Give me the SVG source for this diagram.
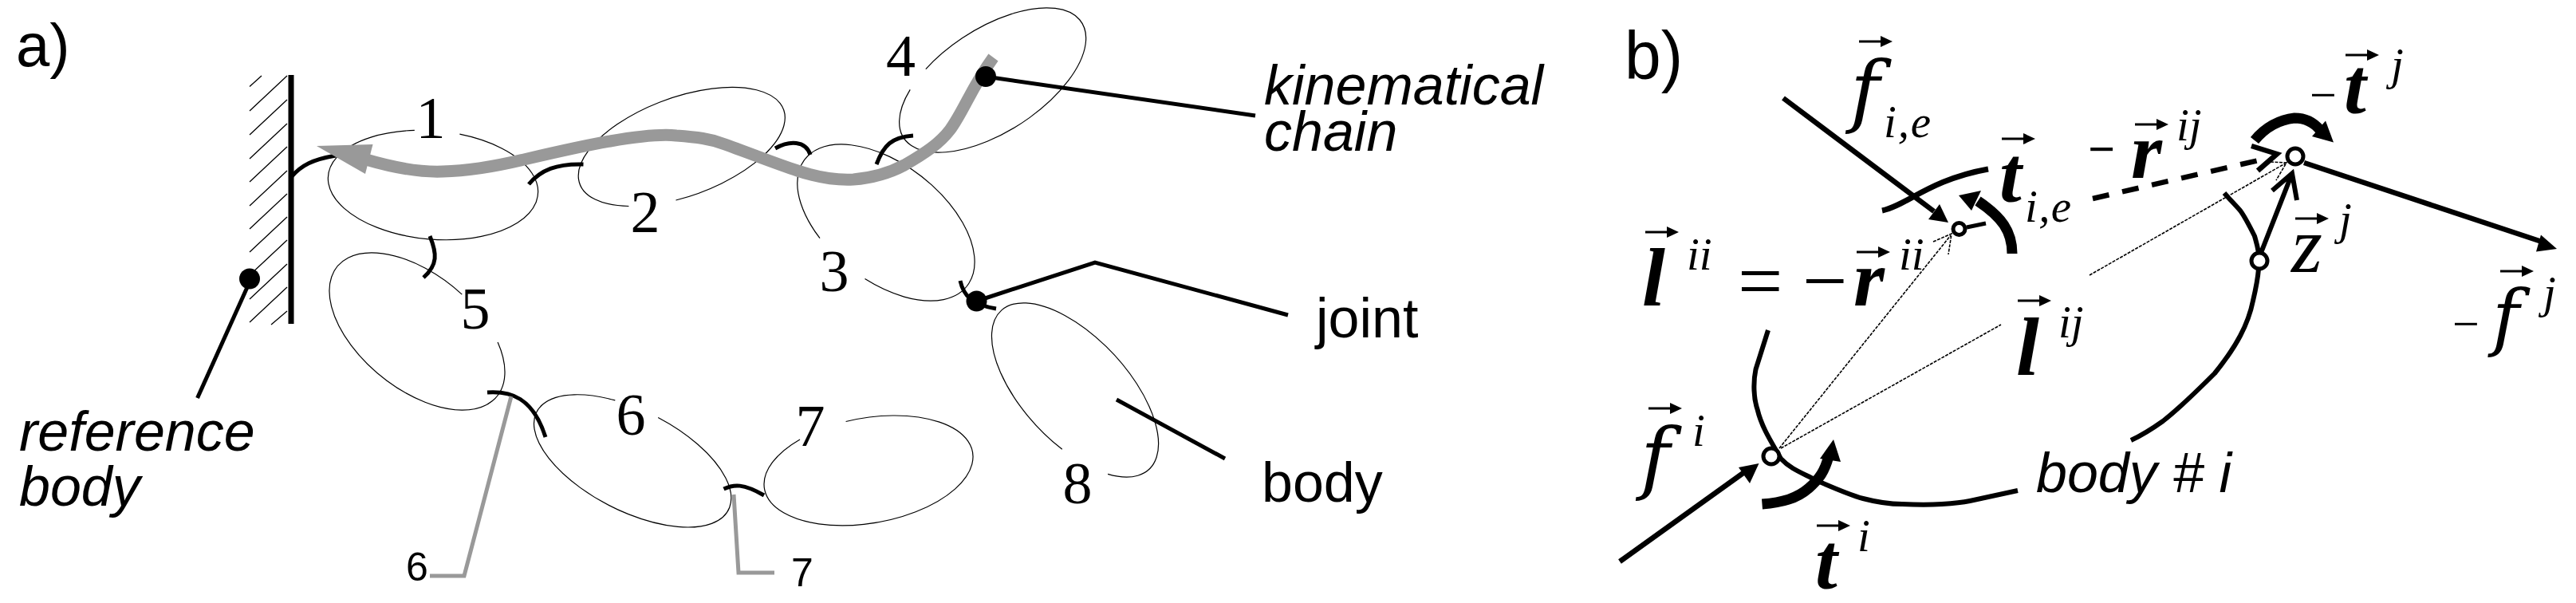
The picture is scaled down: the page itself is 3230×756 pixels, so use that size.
<svg xmlns="http://www.w3.org/2000/svg" width="3230" height="756" viewBox="0 0 3230 756">
<style>
.bd{fill:none;stroke:#000;stroke-width:1.2}
.jt{fill:none;stroke:#000;stroke-width:5}
.ld{fill:none;stroke:#000;stroke-width:5}
.gl{fill:none;stroke:#999;stroke-width:5}
.h{fill:none;stroke:#000;stroke-width:1.3}
.fo{fill:none;stroke:#000;stroke-width:6.5}
.tq{fill:none;stroke:#000;stroke-width:13}
.th{fill:none;stroke:#000;stroke-width:1.6;stroke-dasharray:4 1.5}
.hd{fill:#000;stroke:none}
.oc{fill:#fff;stroke:#000;stroke-width:5}
text{font-family:"Liberation Sans",Arial,sans-serif;font-size:70px}
.num{font-family:"Liberation Serif","Times New Roman",serif;font-size:74px;text-anchor:middle}
.sm{font-size:50px;text-anchor:middle}
.si{font-style:italic}
.mi{font-family:"Liberation Serif","Times New Roman",serif;font-style:italic;font-size:104px}
.mf{font-family:"DejaVu Serif",serif;font-style:italic;font-size:100px}
.mb{font-family:"Liberation Serif","Times New Roman",serif;font-style:italic;font-weight:bold;font-size:100px}
.sb{font-family:"Liberation Serif","Times New Roman",serif;font-style:italic;font-size:57px}
.op{font-family:"Liberation Serif","Times New Roman",serif;font-size:100px}
.op6{font-family:"Liberation Serif","Times New Roman",serif;font-size:60px}
</style>
<defs>
<g id="v"><path d="M0 0H30" stroke="#000" stroke-width="3" fill="none"/><path d="M27 -7L42 0L27 7Z" fill="#000"/></g>
</defs>
<text x="20" y="83" style="font-size:76px">a)</text>
<text x="2037" y="99" style="font-size:86px" textLength="73" lengthAdjust="spacingAndGlyphs">b)</text>
<g id="reference-body">
<path class="h" d="M313 108.500L328 95M313 139L360 95M313 169L360 125M313 199L360 155M313 228L360 184M313 258L360 214M313 287L360 243M313 316L360 272M313 345L360 301M313 375L360 331M313 404L360 360M340 407L360 390"/>
<path d="M365 94V406" stroke="#000" stroke-width="7" fill="none"/>
<circle cx="313" cy="349.500" r="13"/>
<text class="si" x="24" y="565">reference</text>
<text class="si" x="24" y="634">body</text>
</g>
<g id="body-1"><path class="bd" d="M576.400 168.200A132 68 5 1 1 519.800 163.400"/><text class="num" x="540" y="172.500">1</text></g>
<g id="body-2"><path class="bd" d="M847.500 251A136 62 -20 1 0 788.400 258.500"/><text class="num" x="809" y="291">2</text></g>
<g id="body-3"><path class="bd" d="M1084.500 349.600A129 73 38 1 0 1028 298.600"/><text class="num" x="1046" y="365">3</text></g>
<g id="body-4"><path class="bd" d="M1160.800 86.600A133 65 -33 1 1 1141.200 112.400"/><text class="num" x="1129.500" y="95">4</text></g>
<g id="body-5"><path class="bd" d="M624.100 429.100A129 72 39 1 1 579.300 369.100"/><text class="num" x="596" y="412">5</text></g>
<g id="body-6"><path class="bd" d="M825.200 523.500A135 63 27 1 1 771.300 501.900"/><text class="num" x="791" y="545">6</text></g>
<g id="body-7"><path class="bd" d="M1060.600 528.500A132.500 66 -10 1 1 1003 550.900"/><text class="num" x="1016" y="559">7</text></g>
<g id="body-8"><path class="bd" d="M1389.100 594.400A136 66 47 1 0 1331.800 563.300"/><text class="num" x="1351" y="630.500">8</text></g>
<g id="connectors">
<path class="jt" d="M365 222C378 207 392 200 421 195"/>
<path class="jt" d="M663 231C678 213 698 205 731.500 206"/>
<path class="jt" d="M539 296C548 318 549 332 531 348"/>
<path class="jt" d="M611 492C640 490 668 498 684 548"/>
<path class="jt" d="M907.500 613C920 607 932 606 958 621"/>
<path class="jt" d="M972 186C990 176 1010 176 1016 194"/>
<path class="jt" d="M1099 206C1108 182 1118 172 1145 170"/>
<path class="jt" d="M1204 352C1208 370 1218 382 1249 387"/>
<path class="gl" d="M641 497L582 722H539"/>
<path class="gl" d="M920 620L926 718H971"/>
<path d="M459 200C500 212 530 216 555 215C600 214 640 204 657 200C700 190 735 182 765 177C800 171 830 168 848 170C875 172 890 174 906 180C940 192 975 206 1000 214C1030 224 1050 226 1070 225C1095 223 1115 217 1134 207C1160 192 1178 180 1191 163C1208 140 1218 110 1245.500 72" fill="none" stroke="#999" stroke-width="15"/>
<path d="M397 183L467.500 181L458 218Z" fill="#999"/>
<path class="ld" d="M247.500 499L310.500 359"/>
<path class="ld" d="M1236 96L1574 145"/>
<path class="ld" d="M1224.500 377.500L1373 329L1615 395"/>
<path class="ld" d="M1400 501L1536 575"/>
<circle cx="1236" cy="96" r="13"/>
<circle cx="1224.500" cy="377.500" r="13"/>
</g>
<g id="label-kinematical-chain"><text class="si" x="1585" y="131">kinematical</text><text class="si" x="1585" y="189">chain</text></g>
<g id="label-joint"><text x="1650" y="423">joint</text></g>
<g id="label-body"><text x="1582" y="629">body</text></g>
<g id="label-6"><text class="sm" x="523" y="728">6</text></g>
<g id="label-7"><text class="sm" x="1006" y="735">7</text></g>
<g id="body-i">
<path class="jt" style="stroke-width:6" d="M2217 414L2201.500 463C2198 480 2199 500 2203.500 513C2208 532 2216 546 2233 575C2245 588 2260 593 2277 602C2300 612 2318 620 2336 625C2355 630 2370 632 2385 632C2405 633 2420 633 2435 632C2450 631 2460 630 2470 628L2530 615"/>
<path class="jt" style="stroke-width:6" d="M2672 552C2685 546 2698 538 2712 528C2735 510 2755 490 2777 468C2790 452 2800 438 2809 421C2818 404 2822 392 2825 377C2829 360 2831 350 2832 337"/>
<path class="jt" style="stroke-width:6" d="M2832 317C2830 305 2828 300 2827 296C2820 282 2815 272 2809 264C2802 256 2795 249 2789 242"/>
<path class="jt" style="stroke-width:7" d="M2360 264C2390 258 2420 225 2493 212"/>
<text class="si" x="2553" y="617">body # i</text>
</g>
<g id="connectors-b">
<path class="th" d="M2231 562L2446 295M2424 303L2447 293L2443 319"/>
<path class="th" d="M2233 562L2509 407"/>
<path class="th" d="M2620 345L2867 204M2847 203L2867 204L2854 226"/>
<path class="fo" d="M2236 123L2425 265"/>
<path class="hd" d="M2443 279L2418 275L2432 256Z"/>
<path class="fo" d="M2031 704L2190 590"/>
<path class="hd" d="M2205.500 581L2180 586L2194 606Z"/>
<path class="fo" d="M2889 204L3190 304"/>
<path class="hd" d="M3206 312L3186 294.500L3180 315.500Z"/>
<path class="jt" d="M2466 285L2490 280"/>
<path class="tq" d="M2523 318C2523 290 2510 272 2480 252"/>
<path class="hd" d="M2456 245L2484 239L2472 264Z"/>
<path class="tq" d="M2209.500 632C2235 630 2253 625 2268 612C2282 600 2288 590 2293 572"/>
<path class="hd" d="M2299 551L2282 575L2308 579Z"/>
<path class="tq" d="M2827 176C2840 160 2858 150 2877 148C2890 148 2900 152 2909 163"/>
<path class="hd" d="M2926 178.500L2916 151.500L2899 171Z"/>
<path class="jt" style="stroke-width:6" d="M2835 317L2874 217.500M2849 239L2874 217.500L2880 251"/>
<path class="fo" style="stroke-dasharray:21 17" d="M2624 249L2845 198"/>
<path class="fo" d="M2823 183L2855 193L2831 214"/>
<circle class="oc" cx="2456.500" cy="287" r="7.500"/>
<circle class="oc" cx="2221" cy="572" r="10"/>
<circle class="oc" cx="2833" cy="327" r="10"/>
<circle class="oc" cx="2878" cy="196" r="10"/>
</g>
<g id="math-labels">
<use href="#v" x="2331" y="52"/><text class="mf" x="2320" y="147">f</text><text class="sb" x="2362" y="172" textLength="59">i,e</text>
<use href="#v" x="2510" y="174"/><text class="mb" x="2507" y="253">t</text><text class="sb" x="2539" y="278" textLength="58">i,e</text>
<use href="#v" x="2063" y="291"/><text class="mb" x="2059" y="383" style="font-size:104px">l</text><text class="sb" x="2115" y="338">ii</text>
<text class="op" x="2179" y="386">=</text><text class="op" x="2260" y="386">−</text>
<use href="#v" x="2328" y="316"/><text class="mb" x="2324" y="383">r</text><text class="sb" x="2381" y="338">ii</text>
<use href="#v" x="2530" y="377"/><text class="mb" x="2528" y="470" style="font-size:104px">l</text><text class="sb" x="2581" y="423">ij</text>
<use href="#v" x="2067" y="512"/><text class="mf" x="2057" y="607">f</text><text class="sb" x="2122" y="559">i</text>
<use href="#v" x="2278" y="659"/><text class="mb" x="2276" y="738">t</text><text class="sb" x="2329" y="691">i</text>
<text class="op6" x="2896" y="139">−</text>
<use href="#v" x="2941" y="69"/><text class="mb" x="2939" y="142">t</text><text class="sb" x="2998" y="100">j</text>
<text class="op6" x="2618" y="207" font-weight="bold">−</text>
<use href="#v" x="2677" y="156"/><text class="mb" x="2672" y="223">r</text><text class="sb" x="2729" y="176">ij</text>
<use href="#v" x="2878" y="274"/><text class="mi" x="2873" y="340.500" style="font-size:100px">z</text><text class="sb" x="2933" y="294">j</text>
<text class="op6" x="3075" y="426">−</text>
<use href="#v" x="3135" y="340"/><text class="mf" x="3125" y="429" style="font-size:92px">f</text><text class="sb" x="3189" y="386">j</text>
</g>
</svg>
